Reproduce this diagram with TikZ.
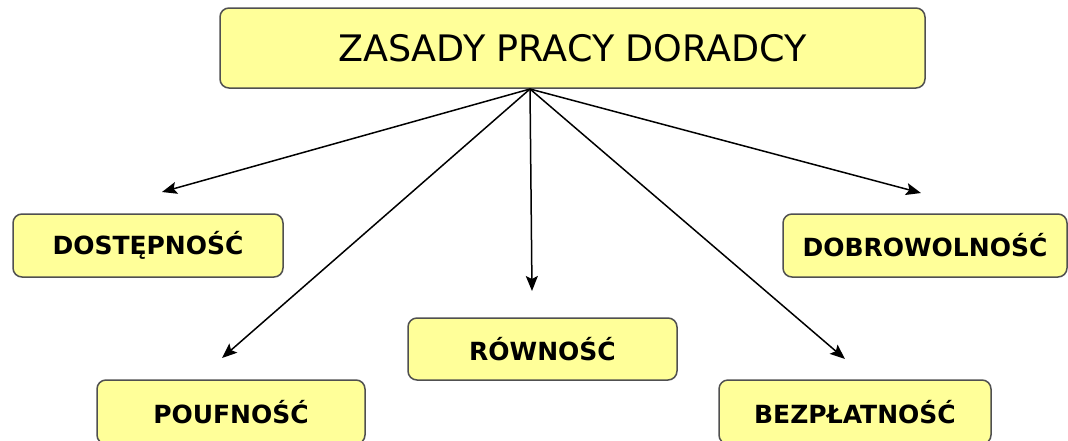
\documentclass[tikz,border=0pt]{standalone}
\usepackage{fontspec}
\setmainfont{DejaVu Sans}
\usetikzlibrary{arrows.meta}
\definecolor{boxfill}{RGB}{255,255,153}
\definecolor{boxline}{RGB}{80,80,80}
\tikzset{
  box/.style={draw=boxline, line width=1.5pt, fill=boxfill, rounded corners=9pt, inner sep=0pt, font=\bfseries\fontsize{25}{30}\selectfont},
  arr/.style={line width=1.5pt, -{Stealth[length=15pt,width=12pt,inset=3pt]}}
}
\begin{document}
\begin{tikzpicture}[x=1pt,y=-1pt]
\useasboundingbox (0,0) rectangle (1068,440);
\node[box, minimum width=705pt, minimum height=80pt, font=\fontsize{36.5}{42}\selectfont] (top) at (572.5,48) {ZASADY PRACY DORADCY};
\node[box, minimum width=270pt, minimum height=63pt] (dost) at (148,245.5) {DOSTĘPNOŚĆ};
\node[box, minimum width=284pt, minimum height=63pt] (dobr) at (925,245.5) {DOBROWOLNOŚĆ};
\node[box, minimum width=269pt, minimum height=62pt] (rown) at (542.5,349) {RÓWNOŚĆ};
\node[box, minimum width=268pt, minimum height=64pt] (pouf) at (231,412) {POUFNOŚĆ};
\node[box, minimum width=272pt, minimum height=64pt] (bez) at (855,412) {BEZPŁATNOŚĆ};
\coordinate (o) at (530,89);
\coordinate (e1) at (162,192);
\coordinate (e2) at (222,358);
\coordinate (e3) at (532,291);
\coordinate (e4) at (845,359);
\coordinate (e5) at (921,193);
\draw[arr] (o) -- (e1);
\draw[arr] (o) -- (e2);
\draw[arr] (o) -- (e3);
\draw[arr] (o) -- (e4);
\draw[arr] (o) -- (e5);
\end{tikzpicture}
\end{document}
